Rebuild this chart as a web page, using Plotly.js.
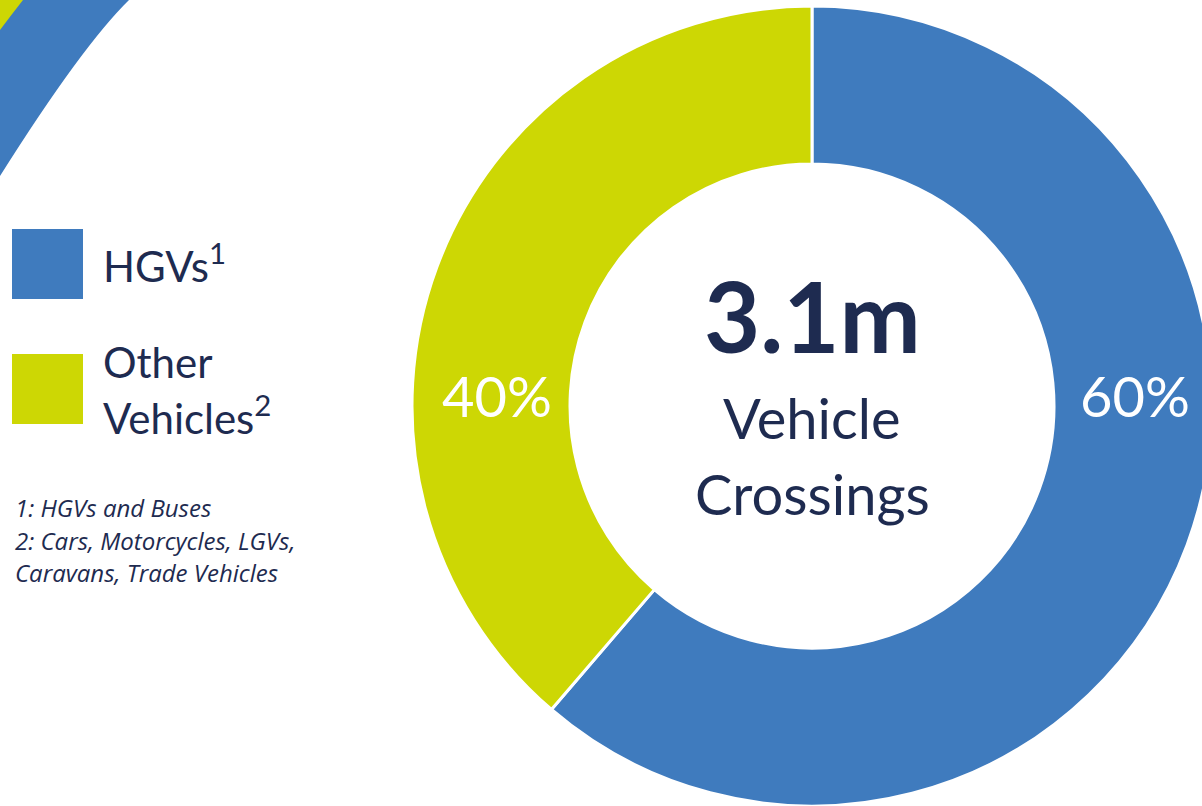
<!DOCTYPE html>
<html>
<head>
<meta charset="utf-8">
<script src="https://cdn.plot.ly/plotly-3.0.1.min.js"></script>
<style>
html,body{margin:0;padding:0;overflow:hidden;background:#fff;}
#chart{width:1222px;height:806px;}
</style>
</head>
<body>
<div id="chart"></div>
<script>
// ---- data ----
const categories = ['HGVs', 'Other Vehicles'];
const crossingsMillions = [1.9, 1.2];      // slice sizes read from the ring
const shareLabels = ['60%', '40%'];         // labels as printed on the chart
const footnoteMarks = ['1', '2'];
const totalLabel = '3.1m';
const centerLines = ['Vehicle', 'Crossings'];
const footnotes = [
  '1: HGVs and Buses',
  '2: Cars, Motorcycles, LGVs,',
  'Caravans, Trade Vehicles'
];

// ---- styles ----
const W = 1222, H = 806;
const colors = ['#3F7BBE', '#CDD704'];
const navy = '#1E2B50';
const FONT = 'Lato, "Open Sans", sans-serif';
const FOOT_FONT = '"Open Sans", Lato, sans-serif';
const px = x => x / W;
const py = y => 1 - y / H;

const trace = {
  type: 'pie',
  labels: categories,
  values: crossingsMillions,
  hole: 0.605,
  sort: false,
  direction: 'clockwise',
  rotation: 0,
  textinfo: 'none',
  hoverinfo: 'label+percent',
  showlegend: false,
  marker: {colors: colors, line: {color: '#ffffff', width: 3}},
  domain: {x: [px(412), px(1212)], y: [0, 800 / H]}
};

function pathFromPx(pts) {
  return pts.map(p => {
    const c = p[0];
    const nums = [];
    for (let i = 1; i < p.length; i += 2) nums.push(px(p[i]) + ',' + py(p[i + 1]));
    return c + ' ' + nums.join(' ');
  }).join(' ');
}

const shapes = [
  // decorative arcs at top-left
  {type: 'path', xref: 'paper', yref: 'paper', line: {width: 0}, fillcolor: colors[0],
   path: pathFromPx([['M', 0, 0], ['L', 129, 0], ['Q', 82, 46, 0, 176]]) + ' Z'},
  {type: 'path', xref: 'paper', yref: 'paper', line: {width: 0}, fillcolor: colors[1],
   path: pathFromPx([['M', 0, 0], ['L', 23, 0], ['Q', 12, 14, 0, 30]]) + ' Z'},
  // legend swatches
  {type: 'rect', xref: 'paper', yref: 'paper', line: {width: 0}, fillcolor: colors[0],
   x0: px(12), x1: px(83), y0: py(229), y1: py(299)},
  {type: 'rect', xref: 'paper', yref: 'paper', line: {width: 0}, fillcolor: colors[1],
   x0: px(12), x1: px(83), y0: py(354), y1: py(424)}
];

const ann = (text, x, y, size, color, extra, family) => Object.assign({
  text: text, x: px(x), y: py(y), xref: 'paper', yref: 'paper',
  showarrow: false, xanchor: 'center', yanchor: 'middle',
  font: {family: family || FONT, size: size, color: color}
}, extra || {});

const annotations = [
  ann('<b>' + totalLabel + '</b>', 812, 316, 97, navy),
  ann(centerLines[0], 812, 417, 56, navy),
  ann(centerLines[1], 812, 493, 56, navy),
  ann(shareLabels[0], 1135, 395, 56, '#ffffff'),
  ann(shareLabels[1], 497, 395, 56, '#ffffff'),
  ann(categories[0] + '<sup>' + footnoteMarks[0] + '</sup>', 101, 263, 42, navy, {xanchor: 'left'}),
  ann(categories[1].split(' ')[0], 101, 362, 42, navy, {xanchor: 'left'}),
  ann(categories[1].split(' ')[1] + '<sup>' + footnoteMarks[1] + '</sup>', 101, 415, 42, navy, {xanchor: 'left'}),
  ann('<i>' + footnotes[0] + '</i>', 13, 508, 24, navy, {xanchor: 'left'}, FOOT_FONT),
  ann('<i>' + footnotes[1] + '</i>', 13, 540, 24, navy, {xanchor: 'left'}, FOOT_FONT),
  ann('<i>' + footnotes[2] + '</i>', 13, 572, 24, navy, {xanchor: 'left'}, FOOT_FONT)
];

const layout = {
  width: W, height: H,
  margin: {l: 0, r: 0, t: 0, b: 0},
  paper_bgcolor: '#ffffff',
  plot_bgcolor: '#ffffff',
  showlegend: false,
  shapes: shapes,
  annotations: annotations
};

Plotly.newPlot('chart', [trace], layout, {displayModeBar: false, staticPlot: true});
</script>
</body>
</html>
